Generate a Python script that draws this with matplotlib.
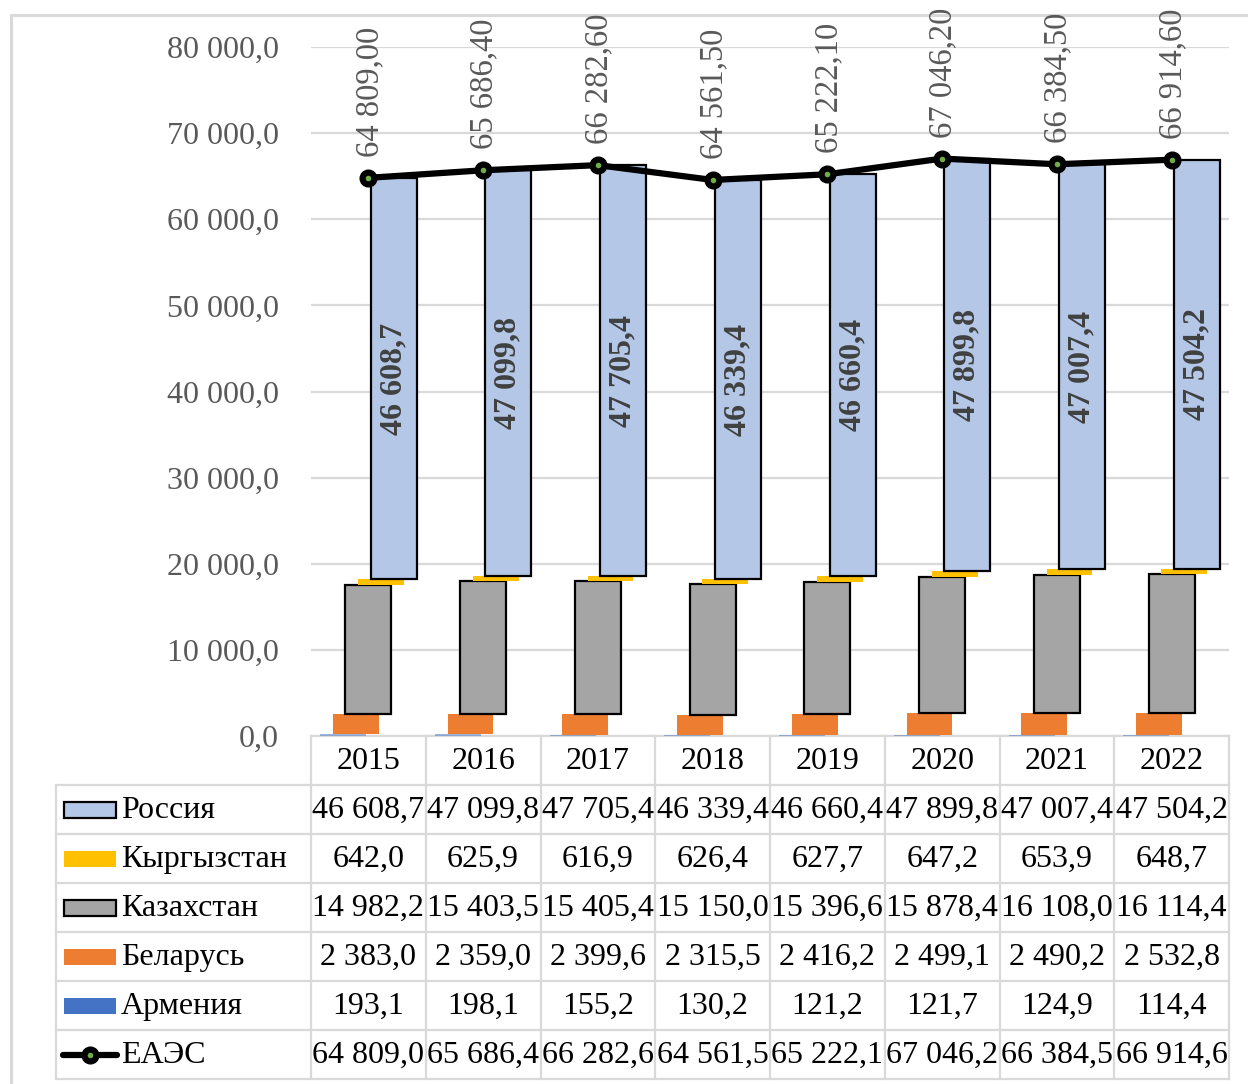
import numpy as np
import matplotlib.pyplot as plt
from matplotlib.patches import Rectangle
from matplotlib.lines import Line2D

plt.rcParams['font.family'] = ['Liberation Serif', 'DejaVu Serif']

years = ['2015', '2016', '2017', '2018', '2019', '2020', '2021', '2022']
russia = [46608.7, 47099.8, 47705.4, 46339.4, 46660.4, 47899.8, 47007.4, 47504.2]
kyrgyzstan = [642.0, 625.9, 616.9, 626.4, 627.7, 647.2, 653.9, 648.7]
kazakhstan = [14982.2, 15403.5, 15405.4, 15150.0, 15396.6, 15878.4, 16108.0, 16114.4]
belarus = [2383.0, 2359.0, 2399.6, 2315.5, 2416.2, 2499.1, 2490.2, 2532.8]
armenia = [193.1, 198.1, 155.2, 130.2, 121.2, 121.7, 124.9, 114.4]
eaeu = [64809.0, 65686.4, 66282.6, 64561.5, 65222.1, 67046.2, 66384.5, 66914.6]

series_names = ['Армения', 'Беларусь', 'Казахстан', 'Кыргызстан', 'Россия']
series_vals = [armenia, belarus, kazakhstan, kyrgyzstan, russia]
series_colors = ['#4472c4', '#ed7d31', '#a5a5a5', '#ffc000', '#b4c7e7']
series_edges = [False, False, True, False, True]


def fmt(v, d):
    return f"{v:,.{d}f}".replace(",", " ").replace(".", ",")


W, H = 1248, 1084
fig = plt.figure(figsize=(W / 100, H / 100), dpi=100)

# background layer in pixel coordinates for the frame and data table
bg = fig.add_axes([0, 0, 1, 1], zorder=0)
bg.set_xlim(0, W)
bg.set_ylim(H, 0)
bg.axis('off')

x0, x1 = 311, 1229
y_top, y_base = 47, 736
row_h = 49
col_w = (x1 - x0) / len(years)
grid_c = '#d9d9d9'

ax = fig.add_axes([x0 / W, (H - y_base) / H, (x1 - x0) / W, (y_base - y_top) / H], zorder=2)
ax.patch.set_alpha(0)
ax.set_xlim(0, len(years))
ax.set_ylim(0, 80000)
for s in ax.spines.values():
    s.set_visible(False)
ax.set_yticks(np.arange(0, 80001, 10000))
ax.set_yticklabels([fmt(v, 1) for v in np.arange(0, 80001, 10000)],
                   fontsize=23, color='#595959')
ax.tick_params(axis='y', length=0, pad=23)
ax.set_xticks([])
ax.grid(axis='y', color=grid_c, lw=1.6, zorder=0)
ax.set_axisbelow(True)

xc = np.arange(len(years)) + 0.5
bottom = np.zeros(len(years))
for k, (name, vals, col, edge) in enumerate(zip(series_names, series_vals, series_colors, series_edges)):
    ax.bar(xc + (k - 2) * 0.11, vals, width=0.4, bottom=bottom, color=col,
           edgecolor='black' if edge else 'none', linewidth=1.6 if edge else 0,
           alpha=0.5 if name == 'Армения' else 1, zorder=2)
    if name == 'Россия':
        for x, b, v in zip(xc + (k - 2) * 0.11, bottom, vals):
            ax.text(x, b + v / 2, fmt(v, 1), rotation=90, ha='center', va='center',
                    fontsize=23, fontweight='bold', color='#404040', zorder=4)
    bottom = bottom + np.array(vals)

ax.plot(xc, eaeu, color='black', lw=4.5, marker='o', ms=12, zorder=5, clip_on=False)
ax.plot(xc, eaeu, ls='none', marker='o', ms=3, color='#70ad47', zorder=6, clip_on=False)
for x, v in zip(xc, eaeu):
    ax.annotate(fmt(v, 2), (x, v), xytext=(1, 15), textcoords='offset points',
                rotation=90, ha='center', va='bottom', fontsize=23.5, color='#595959',
                zorder=6, annotation_clip=False)

# outer frame
bg.plot([11, 11, W + 5], [H + 5, 15, 15], color=grid_c, lw=2.2)

# data table
n_rows = len(series_names) + 1
bg.plot([x0, x1], [y_base, y_base], color=grid_c, lw=1.6)
for i in range(n_rows + 1):
    y = y_base + row_h * (i + 1)
    bg.plot([56, x1], [y, y], color=grid_c, lw=1.6)
for j in range(len(years) + 1):
    bg.plot([x0 + j * col_w] * 2, [y_base, y_base + row_h * (n_rows + 1)], color=grid_c, lw=1.6)
bg.plot([56, 56], [y_base + row_h, y_base + row_h * (n_rows + 1)], color=grid_c, lw=1.6)

for j, yr in enumerate(years):
    bg.text(x0 + (j + 0.5) * col_w, y_base + row_h / 2 + 1, yr, ha='center', va='center',
            fontsize=23, color='black')

table_rows = list(zip(series_names, series_vals, series_colors, series_edges))[::-1]
for i, (name, vals, col, edge) in enumerate(table_rows):
    yc = y_base + row_h * (i + 1.5)
    bg.add_patch(Rectangle((64, yc - 8), 52, 16, facecolor=col,
                           edgecolor='black' if edge else 'none', lw=1.6 if edge else 0))
    bg.text(121, yc + 1, name, ha='left', va='center', fontsize=23, color='black')
    for j, v in enumerate(vals):
        bg.text(x0 + (j + 0.5) * col_w, yc + 1, fmt(v, 1), ha='center', va='center',
                fontsize=23, color='black')

yc = y_base + row_h * (n_rows + 0.5)
bg.add_line(Line2D([63, 117], [yc, yc], color='black', lw=4.5, solid_capstyle='round'))
bg.plot([90], [yc], marker='o', ms=12, color='black')
bg.plot([90], [yc], marker='o', ms=3, color='#70ad47')
bg.text(121, yc + 1, 'ЕАЭС', ha='left', va='center', fontsize=23, color='black')
for j, v in enumerate(eaeu):
    bg.text(x0 + (j + 0.5) * col_w, yc + 1, fmt(v, 1), ha='center', va='center',
            fontsize=23, color='black')

fig.savefig('out.png', dpi=100)
